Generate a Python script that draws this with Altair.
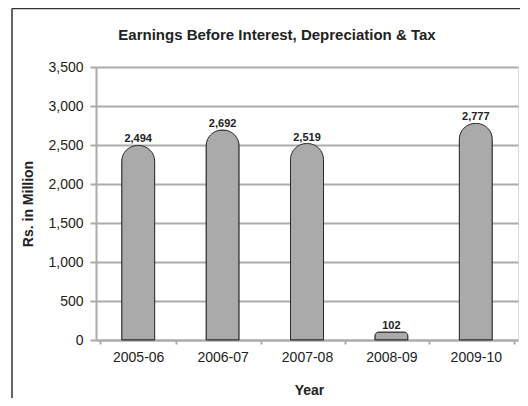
import altair as alt
import pandas as pd

years = ["2005-06", "2006-07", "2007-08", "2008-09", "2009-10"]
values = [2494, 2692, 2519, 102, 2777]
y_ticks = [0, 500, 1000, 1500, 2000, 2500, 3000, 3500]

df = pd.DataFrame({"year": years, "value": values})

FONT = "Liberation Sans"
GRID = "#ababab"
INK = "#222222"

x_enc = alt.X(
    "year:N",
    sort=years,
    title="Year",
    axis=alt.Axis(
        labelAngle=0,
        labelFont=FONT,
        labelFontSize=14,
        labelColor=INK,
        labelPadding=6,
        tickBand="extent",
        tickSize=4,
        tickColor=GRID,
        tickWidth=2,
        domainColor=GRID,
        domainWidth=2,
        titleFont=FONT,
        titleFontSize=14,
        titleFontWeight="bold",
        titleColor=INK,
        titleX=213,
        titleY=54,
        titleBaseline="alphabetic",
    ),
)

y_enc = alt.Y(
    "value:Q",
    scale=alt.Scale(domain=[0, 3500], nice=False),
    title="Rs. in Million",
    axis=alt.Axis(
        values=y_ticks,
        format=",.0f",
        labelFont=FONT,
        labelFontSize=14,
        labelColor=INK,
        labelPadding=7,
        tickSize=6,
        tickColor=GRID,
        tickWidth=2,
        domainColor=GRID,
        domainWidth=2,
        grid=True,
        gridColor=GRID,
        gridWidth=2,
        titleFont=FONT,
        titleFontSize=14,
        titleFontWeight="bold",
        titleColor=INK,
        titleAngle=-90,
        titleX=-63.5,
        titleY=136.5,
        titleBaseline="alphabetic",
    ),
)

base = alt.Chart(df)

bars = base.mark_bar(
    size=33,
    color="#aaaaaa",
    stroke="#2a2a2a",
    strokeWidth=1,
    cornerRadiusTopLeft=16,
    cornerRadiusTopRight=16,
).encode(x=x_enc, y=y_enc)

labels = base.mark_text(
    baseline="alphabetic",
    dy=-3,
    font=FONT,
    fontSize=11,
    fontWeight="bold",
    color=INK,
).encode(
    x=x_enc,
    y=y_enc,
    text=alt.Text("value:Q", format=","),
)

one = alt.Data(values=[{}])
frame_left = alt.Chart(one).mark_rule(color="#333333", strokeWidth=1.5).encode(
    x=alt.value(-84), y=alt.value(-58.5), y2=alt.value(400)
)
frame_top = alt.Chart(one).mark_rule(color="#333333", strokeWidth=1.5).encode(
    x=alt.value(-84), x2=alt.value(600), y=alt.value(-58.5)
)

chart = alt.layer(bars, labels, frame_left, frame_top).properties(
    width=422,
    height=273,
    autosize=alt.AutoSizeParams(type="none"),
    padding={"left": 88, "top": 59, "right": 2, "bottom": 58},
    title=alt.TitleParams(
        "Earnings Before Interest, Depreciation & Tax",
        font=FONT,
        fontSize=15,
        fontWeight="bold",
        color=INK,
        anchor="middle",
        frame="group",
        dx=-30,
        dy=47,
        baseline="alphabetic",
        offset=0,
    ),
).configure_view(stroke=None).configure(background="white")

chart.save("out.html", embed_options={"renderer": "svg", "actions": False})
